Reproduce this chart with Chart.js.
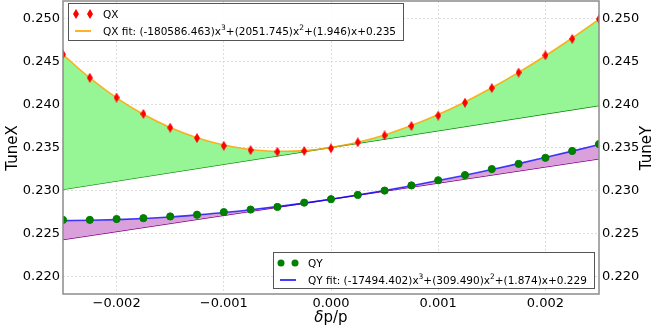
<!DOCTYPE html>
<html>
<head>
<meta charset="utf-8">
<script src="https://cdn.jsdelivr.net/npm/chart.js@4.4.0/dist/chart.umd.min.js"></script>
<style>
  html, body { margin: 0; padding: 0; background: #fff; }
  #wrap { width: 652px; height: 327px; }
</style>
</head>
<body>
<div id="wrap"><canvas id="tune-chart" width="652" height="327"></canvas></div>
<script>
// momentum deviation samples
const dpp = [-0.0025, -0.00225, -0.002, -0.00175, -0.0015, -0.00125, -0.001, -0.00075, -0.0005, -0.00025,
             0, 0.00025, 0.0005, 0.00075, 0.001, 0.00125, 0.0015, 0.00175, 0.002, 0.00225, 0.0025];
// measured tunes
const qx = [0.2458, 0.2431, 0.2408, 0.2389, 0.2373, 0.2361, 0.2352, 0.2347, 0.2345, 0.2346, 0.2349,
            0.2356, 0.2364, 0.2375, 0.2387, 0.2402, 0.2419, 0.2437, 0.2457, 0.2476, 0.2499];
const qy = [0.2266, 0.2266, 0.2267, 0.2268, 0.2270, 0.2272, 0.2275, 0.2278, 0.2281, 0.2286, 0.2290,
            0.2295, 0.2300, 0.2306, 0.2312, 0.2318, 0.2325, 0.2331, 0.2338, 0.2346, 0.2354];
// fitted curves
const qxFit = [0.24578, 0.24307, 0.24076, 0.23885, 0.23731, 0.23613, 0.23529, 0.23477, 0.23456, 0.23464, 0.23500,
               0.23561, 0.23646, 0.23754, 0.23882, 0.24029, 0.24193, 0.24372, 0.24565, 0.24771, 0.24987];
const qyFit = [0.22652, 0.22655, 0.22663, 0.22676, 0.22694, 0.22718, 0.22745, 0.22778, 0.22814, 0.22855, 0.22900,
               0.22949, 0.23001, 0.23057, 0.23117, 0.23179, 0.23245, 0.23313, 0.23385, 0.23458, 0.23535];
// linear (chromaticity) lines, end points only
const linX = [-0.0025, 0.0025];
const qxLin = [0.23014, 0.23987];
const qyLin = [0.22432, 0.23369];
const xTicks = [-0.002, -0.001, 0, 0.001, 0.002];
const yTicks = [0.220, 0.225, 0.230, 0.235, 0.240, 0.245, 0.250];

const FONT = "'DejaVu Sans', sans-serif";
const pts = (xs, ys) => xs.map((x, i) => ({x: x, y: ys[i]}));
const minus = s => s.replace('-', '\u2212');

// thin red diamond marker
function thinDiamond(w, h, color) {
  const c = document.createElement('canvas');
  c.width = w; c.height = h;
  const g = c.getContext('2d');
  g.fillStyle = color;
  g.beginPath();
  g.moveTo(w / 2, 0); g.lineTo(w, h / 2); g.lineTo(w / 2, h); g.lineTo(0, h / 2);
  g.closePath(); g.fill();
  return c;
}
const diamond = thinDiamond(6, 10, '#ff0000');

const fitOrange = 'rgba(255,165,0,0.85)';
const fitBlue = 'rgba(0,0,255,0.75)';

function drawSup(ctx, parts, x, y) {
  // parts: [text, isSuperscript]
  for (const [t, sup] of parts) {
    ctx.font = (sup ? '7.5px ' : '10.5px ') + FONT;
    ctx.fillText(t, x, sup ? y - 4 : y);
    x += ctx.measureText(t).width;
  }
}

function legendBox(ctx, box, rows) {
  ctx.save();
  ctx.fillStyle = 'rgba(255,255,255,0.9)';
  ctx.fillRect(box.x, box.y, box.w, box.h);
  ctx.strokeStyle = '#555';
  ctx.lineWidth = 1;
  ctx.strokeRect(box.x + 0.5, box.y + 0.5, box.w, box.h);
  ctx.textBaseline = 'middle';
  rows.forEach((r, i) => {
    const cy = box.y + 11 + i * 17;
    if (r.marker === 'diamond') {
      ctx.drawImage(diamond, box.x + 8 - 3, cy - 5);
      ctx.drawImage(diamond, box.x + 22 - 3, cy - 5);
    } else if (r.marker === 'circle') {
      ctx.fillStyle = '#008000';
      [box.x + 8, box.x + 22].forEach(px => { ctx.beginPath(); ctx.arc(px, cy, 3.5, 0, Math.PI * 2); ctx.fill(); });
    } else {
      ctx.strokeStyle = r.marker; ctx.lineWidth = 2;
      ctx.beginPath(); ctx.moveTo(box.x + 7, cy); ctx.lineTo(box.x + 23, cy); ctx.stroke();
    }
    ctx.fillStyle = '#000';
    drawSup(ctx, r.parts, box.x + 35, cy + 1);
  });
  ctx.restore();
}

const decor = {
  id: 'decor',
  afterDraw(chart) {
    const ctx = chart.ctx, a = chart.chartArea;
    ctx.save();
    ctx.strokeStyle = '#8c8c8c';
    ctx.lineWidth = 1.5;
    ctx.strokeRect(a.left, a.top, a.right - a.left, a.bottom - a.top);
    ctx.fillStyle = '#000';
    ctx.font = '15px ' + FONT;
    ctx.textAlign = 'center';
    ctx.textBaseline = 'middle';
    ctx.save(); ctx.translate(13, 148); ctx.rotate(-Math.PI / 2); ctx.fillText('TuneX', 0, 0); ctx.restore();
    ctx.save(); ctx.translate(647, 148); ctx.rotate(-Math.PI / 2); ctx.fillText('TuneY', 0, 0); ctx.restore();
    // x label: italic delta + p/p
    const cx = (a.left + a.right) / 2;
    ctx.textAlign = 'left';
    ctx.font = 'italic 15px ' + FONT;
    const wd = ctx.measureText('\u03b4').width;
    ctx.font = '15px ' + FONT;
    const wr = ctx.measureText('p/p').width;
    const x0 = cx - (wd + wr) / 2;
    ctx.font = 'italic 15px ' + FONT;
    ctx.fillText('\u03b4', x0, 318);
    ctx.font = '15px ' + FONT;
    ctx.fillText('p/p', x0 + wd, 318);
    legendBox(ctx, {x: 68, y: 3, w: 335, h: 37}, [
      {marker: 'diamond', parts: [['QX', false]]},
      {marker: fitOrange, parts: [['QX fit: (-180586.463)x', false], ['3', true], ['+(2051.745)x', false], ['2', true], ['+(1.946)x+0.235', false]]}
    ]);
    legendBox(ctx, {x: 273, y: 252, w: 321, h: 36}, [
      {marker: 'circle', parts: [['QY', false]]},
      {marker: fitBlue, parts: [['QY fit: (-17494.402)x', false], ['3', true], ['+(309.490)x', false], ['2', true], ['+(1.874)x+0.229', false]]}
    ]);
    ctx.restore();
  }
};

Chart.defaults.font.family = FONT;
Chart.defaults.color = '#000';

const noPad = s => { s.paddingTop = 0; s.paddingBottom = 0; s.paddingLeft = 0; s.paddingRight = 0; };

new Chart(document.getElementById('tune-chart'), {
  type: 'scatter',
  data: {
    datasets: [
      {label: 'QX', data: pts(dpp, qx), pointStyle: diamond, pointRadius: 5, showLine: false},
      {label: 'QY', data: pts(dpp, qy), backgroundColor: '#008000', borderColor: '#008000', pointRadius: 3.6, showLine: false},
      {label: 'QX fit', data: pts(dpp, qxFit), showLine: true, borderColor: fitOrange, borderWidth: 1.6,
       pointRadius: 0, cubicInterpolationMode: 'monotone',
       fill: {target: 4, above: 'rgba(144,245,144,0.95)', below: 'rgba(144,245,144,0.95)'}},
      {label: 'QY fit', data: pts(dpp, qyFit), showLine: true, borderColor: fitBlue, borderWidth: 1.6,
       pointRadius: 0, cubicInterpolationMode: 'monotone',
       fill: {target: 5, above: 'rgba(218,160,220,1)', below: 'rgba(218,160,220,1)'}},
      {label: 'QX lin', data: pts(linX, qxLin), showLine: true, borderColor: '#008000', borderWidth: 1.3, pointRadius: 0},
      {label: 'QY lin', data: pts(linX, qyLin), showLine: true, borderColor: '#800080', borderWidth: 1.3, pointRadius: 0}
    ]
  },
  options: {
    responsive: false,
    animation: false,
    layout: {autoPadding: false, padding: {top: 1, right: 0, left: 0, bottom: 0}},
    plugins: {legend: {display: false}, tooltip: {enabled: false}},
    scales: {
      x: {
        type: 'linear', min: -0.0025, max: 0.0025,
        afterBuildTicks: s => { s.ticks = xTicks.map(v => ({value: v})); },
        afterFit: s => { s.height = 33; noPad(s); },
        ticks: {font: {size: 13}, padding: 2, maxRotation: 0, callback: v => minus(v.toFixed(3))},
        grid: {color: '#d6d6d6', lineWidth: 0.8, drawTicks: false},
        border: {display: false, dash: [2, 2]}
      },
      y: {
        position: 'left', min: 0.218, max: 0.252,
        afterBuildTicks: s => { s.ticks = yTicks.map(v => ({value: v})); },
        afterFit: s => { s.width = 63; noPad(s); },
        ticks: {font: {size: 13}, padding: 3, callback: v => v.toFixed(3)},
        grid: {color: '#d6d6d6', lineWidth: 0.8, drawTicks: false},
        border: {display: false, dash: [2, 2]}
      },
      y2: {
        position: 'right', min: 0.218, max: 0.252,
        afterBuildTicks: s => { s.ticks = yTicks.map(v => ({value: v})); },
        afterFit: s => { s.width = 53; noPad(s); },
        ticks: {font: {size: 13}, padding: 3, callback: v => v.toFixed(3)},
        grid: {display: false, drawTicks: false},
        border: {display: false}
      }
    }
  },
  plugins: [decor]
});
</script>
</body>
</html>
